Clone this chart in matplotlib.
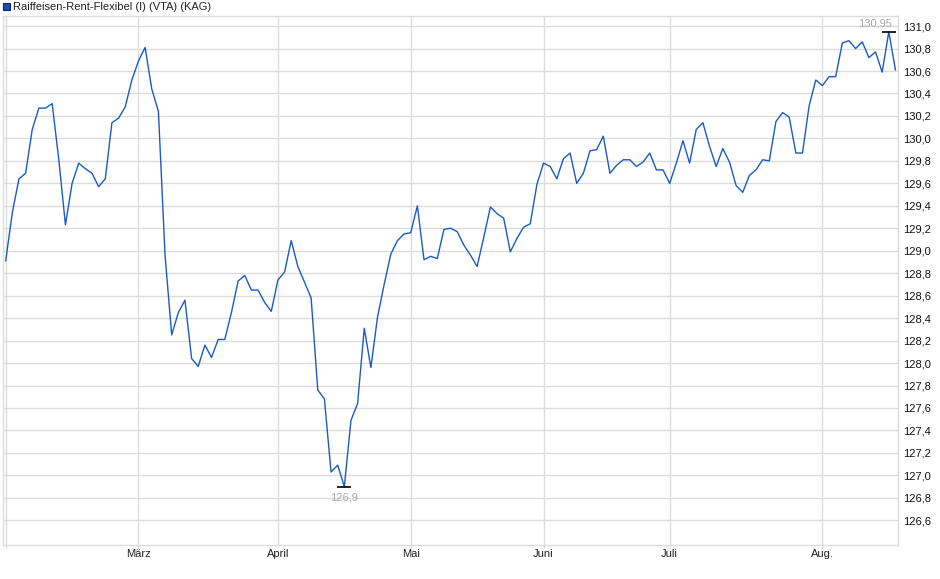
import numpy as np
import matplotlib
matplotlib.use("Agg")
import matplotlib.pyplot as plt
from matplotlib.patches import Rectangle
from matplotlib.ticker import FuncFormatter

# fund prices, one per trading day
prices = [
    128.91, 129.34, 129.64, 129.69, 130.08, 130.27, 130.27, 130.31, 129.81, 129.23,
    129.60, 129.78, 129.73, 129.69, 129.57, 129.64, 130.14, 130.18, 130.28, 130.52,
    130.69, 130.81, 130.44, 130.24, 128.96, 128.25, 128.45, 128.56, 128.04, 127.97,
    128.16, 128.05, 128.21, 128.21, 128.45, 128.73, 128.78, 128.65, 128.65, 128.54,
    128.46, 128.74, 128.81, 129.09, 128.86, 128.72, 128.58, 127.76, 127.68, 127.03,
    127.09, 126.90, 127.49, 127.64, 128.31, 127.96, 128.41, 128.70, 128.97, 129.09,
    129.15, 129.16, 129.40, 128.92, 128.95, 128.93, 129.19, 129.20, 129.17, 129.05,
    128.96, 128.86, 129.12, 129.39, 129.33, 129.29, 128.99, 129.11, 129.21, 129.24,
    129.59, 129.78, 129.75, 129.64, 129.82, 129.87, 129.60, 129.69, 129.89, 129.90,
    130.02, 129.69, 129.76, 129.81, 129.81, 129.75, 129.79, 129.87, 129.72, 129.72,
    129.60, 129.78, 129.98, 129.78, 130.08, 130.14, 129.93, 129.75, 129.91, 129.79,
    129.58, 129.52, 129.67, 129.72, 129.81, 129.80, 130.15, 130.23, 130.19, 129.87,
    129.87, 130.29, 130.52, 130.47, 130.55, 130.55, 130.85, 130.87, 130.80, 130.86,
    130.72, 130.77, 130.59, 130.95, 130.61,
]
# month starts (trading day index) and their labels
month_pos = [0, 20, 41, 61, 81, 100, 123]
month_names = ["", "März", "April", "Mai", "Juni", "Juli", "Aug."]
y_ticks = [126.6, 126.8, 127.0, 127.2, 127.4, 127.6, 127.8, 128.0, 128.2, 128.4, 128.6,
           128.8, 129.0, 129.2, 129.4, 129.6, 129.8, 130.0, 130.2, 130.4, 130.6, 130.8, 131.0]
fund_name = "Raiffeisen-Rent-Flexibel (I) (VTA) (KAG)"

plt.rcParams["font.family"] = ["Liberation Sans", "DejaVu Sans"]
fig = plt.figure(figsize=(9.4, 5.79), dpi=100)
ax = fig.add_axes([2.7 / 940, 1 - 545 / 579, (898.3 - 2.7) / 940, (545 - 16) / 579])

x = np.arange(len(prices))
ax.plot(x, prices, color="#1a5ac8", lw=1.0, zorder=3)

ax.set_xlim(-0.45, len(prices) - 1 + 0.43)
ax.set_ylim(126.38, 131.09)

grid = "#dcdcdc"
ax.set_xticks(month_pos)
ax.set_xticklabels(month_names, fontsize=8, color="#222222")
ax.set_yticks(y_ticks)
ax.yaxis.tick_right()
ax.yaxis.set_major_formatter(FuncFormatter(lambda v, p: ("%.1f" % v).replace(".", ",")))
ax.tick_params(axis="y", length=0, pad=3.5, labelsize=8, labelcolor="#111111")
ax.tick_params(axis="x", length=1.8, pad=1.2, color=grid, width=1)
ax.grid(True, color=grid, lw=1)
ax.set_axisbelow(True)
for s in ax.spines.values():
    s.set_color(grid)
    s.set_linewidth(1)

# high / low markers
hi = int(np.argmax(prices))
lo = int(np.argmin(prices))
ax.plot([hi], [prices[hi]], marker="_", ms=10, mew=1.2, color="black", zorder=4)
ax.plot([lo], [prices[lo]], marker="_", ms=10, mew=1.2, color="black", zorder=4)
ax.annotate(("%.2f" % prices[hi]).replace(".", ","), (hi, prices[hi]), xytext=(-10, 2.5),
            textcoords="offset points", ha="center", va="bottom", fontsize=8, color="#a8a8a8")
ax.annotate(("%.1f" % prices[lo]).replace(".", ","), (lo, prices[lo]), xytext=(0, -4),
            textcoords="offset points", ha="center", va="top", fontsize=8, color="#a8a8a8")

# legend at the top left
fig.add_artist(Rectangle((3 / 940, 1 - 10 / 579), 7 / 940, 7 / 579, transform=fig.transFigure,
                         facecolor="#1c4fb0", edgecolor="#0a2a66", lw=0.8))
fig.text(13 / 940, 1 - 6.5 / 579, fund_name, fontsize=8, color="#222222", va="center", ha="left")

fig.savefig("out.png", dpi=100)
